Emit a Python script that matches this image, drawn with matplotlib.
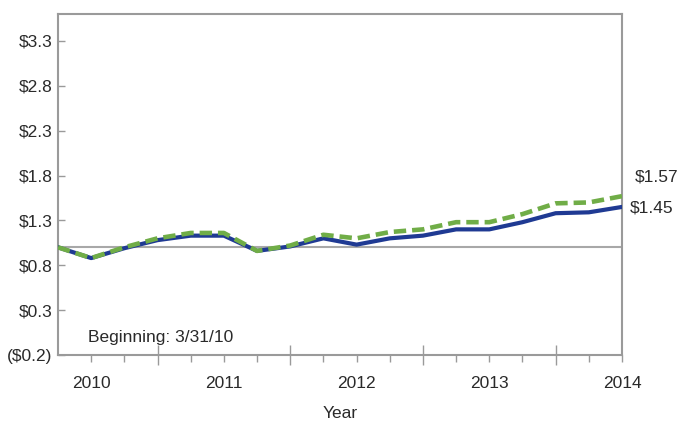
import numpy as np
import matplotlib.pyplot as plt
from matplotlib.ticker import FuncFormatter

plt.rcParams['font.family'] = ['Liberation Sans', 'DejaVu Sans']

# quarterly values, 3/31/10 start (index 0) to end (index 17)
quarters = np.arange(18)
fund = [1.00, 0.88, 0.99, 1.08, 1.13, 1.13, 0.96, 1.01, 1.10, 1.03,
        1.10, 1.13, 1.20, 1.20, 1.28, 1.38, 1.39, 1.45]
index = [1.00, 0.88, 1.00, 1.10, 1.16, 1.16, 0.96, 1.02, 1.14, 1.10,
         1.17, 1.20, 1.28, 1.28, 1.37, 1.49, 1.50, 1.57]
year_pos = [1, 5, 9, 13, 17]
year_labels = ['2010', '2011', '2012', '2013', '2014']
yticks = [-0.2, 0.3, 0.8, 1.3, 1.8, 2.3, 2.8, 3.3]

grey = '#9a9a9a'
txt = '#2a2a2a'

fig = plt.figure(figsize=(6.79, 4.23), dpi=100)
ax = fig.add_axes([58/679, (423-355)/423, (622-58)/679, (355-14)/423])

ax.axhline(1.0, color='#a8a8a8', lw=1.5, zorder=1)
ax.plot(quarters, fund, color='#1f3a93', lw=3, zorder=3)
ax.plot(quarters, index, color='#70ad47', lw=3.3, ls=(0, (2.7, 1.3)), zorder=4)

ax.set_xlim(0, 17)
ax.set_ylim(-0.2, 3.6)

ax.set_yticks(yticks)
ax.yaxis.set_major_formatter(FuncFormatter(
    lambda v, p: '(${:.1f})'.format(-v) if v < 0 else '${:.1f}'.format(v)))
ax.tick_params(axis='y', direction='in', length=5, width=1, color=grey,
               labelsize=12.5, labelcolor=txt, pad=4)

ax.set_xticks(year_pos)
ax.set_xticklabels(year_labels)
ax.set_xticks([q for q in quarters if q not in year_pos and q not in (0, 3, 7, 11, 15)], minor=True)
ax.tick_params(axis='x', which='both', direction='out', length=5, width=1, color=grey)
ax.tick_params(axis='x', which='major', labelsize=12.5, labelcolor=txt, pad=10)

# long half-year ticks crossing the axis
sec = ax.secondary_xaxis('bottom')
sec.set_xticks([3, 7, 11, 15])
sec.set_xticklabels([])
sec.tick_params(direction='inout', length=14, width=1, color=grey)
sec.spines['bottom'].set_visible(False)

for s in ax.spines.values():
    s.set_color(grey)
    s.set_linewidth(1.5)

ax.set_xlabel('Year', fontsize=12.5, color=txt, labelpad=11)

ax.text(0.9, 0.0, 'Beginning: 3/31/10', fontsize=12.5, color=txt, va='center')
ax.text(17.38, 1.78, '$1.57', fontsize=12.5, color=txt, va='center', clip_on=False)
ax.text(17.23, 1.44, '$1.45', fontsize=12.5, color=txt, va='center', clip_on=False)

fig.savefig('out.png', dpi=100)
